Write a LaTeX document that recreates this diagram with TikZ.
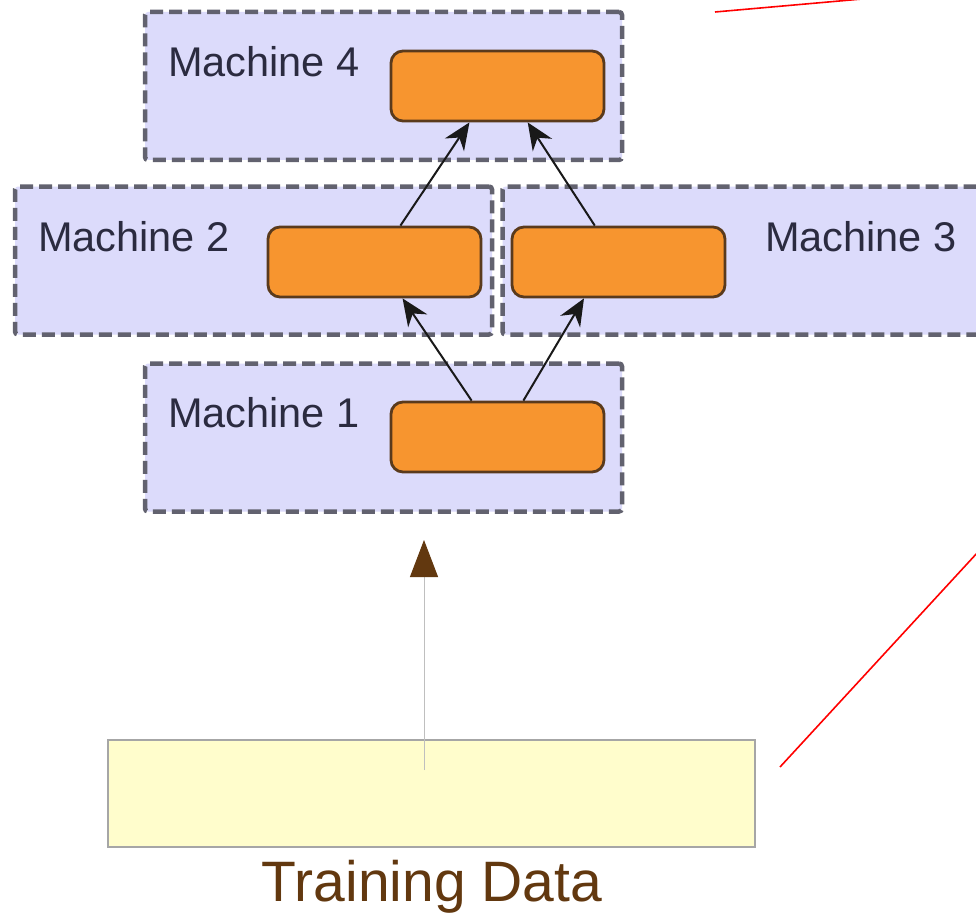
\documentclass[tikz,border=0pt]{standalone}
\usepackage{fontspec}
\setmainfont{Liberation Sans}
\usetikzlibrary{arrows.meta,calc}
\definecolor{lav}{HTML}{DCDBFB}
\definecolor{dashgray}{HTML}{62626F}
\definecolor{orng}{HTML}{F7952F}
\definecolor{obrd}{HTML}{5A3A1C}
\definecolor{brwn}{HTML}{62380F}
\definecolor{ylw}{HTML}{FFFDCC}
\definecolor{labc}{HTML}{2B2B40}
\tikzset{
  machine/.style={draw=dashgray,fill=lav,line width=4.5pt,dash pattern=on 13pt off 6pt,rounded corners=3pt,minimum width=477pt,minimum height=148pt,inner sep=0pt},
  procbox/.style={draw=obrd,fill=orng,line width=2.8pt,rounded corners=12pt,minimum width=213pt,minimum height=70pt,inner sep=0pt},
  mlabel/.style={text=labc,font=\fontsize{41.5}{44}\selectfont,anchor=west,inner sep=0pt},
  flow/.style={draw=black!90,line width=2pt,-{Stealth[length=27pt,width=23pt]}},
  redline/.style={draw=red,line width=1.6pt}
}
\begin{document}
\begin{tikzpicture}[x=1pt,y=-1pt]
\useasboundingbox (0,0) rectangle (976,920);
\clip (0,0) rectangle (976,920);
\fill[white] (0,0) rectangle (976,920);
% machine containers
\node[machine] (m4) at (383.5,86) {};
\node[machine] (m2) at (253.5,260.5) {};
\node[machine] (m3) at (741,260.5) {};
\node[machine] (m1) at (383.5,437.5) {};
% labels
\node[mlabel] (l4) at (168,62) {Machine 4};
\node[mlabel] (l2) at (38,237) {Machine 2};
\node[mlabel] (l3) at (765,237) {Machine 3};
\node[mlabel] (l1) at (168,413) {Machine 1};
% processing boxes
\node[procbox] (p4) at (497.5,86) {};
\node[procbox] (p2) at (374.5,262) {};
\node[procbox] (p3) at (618.5,262) {};
\node[procbox] (p1) at (497.5,437) {};
% arrows
\draw[flow] ($(p1.north west)!0.38!(p1.north east)$) -- ($(p2.south west)!0.63!(p2.south east)$);
\draw[flow] ($(p1.north west)!0.62!(p1.north east)$) -- ($(p3.south west)!0.34!(p3.south east)$);
\draw[flow] ($(p2.north west)!0.62!(p2.north east)$) -- ($(p4.south west)!0.37!(p4.south east)$);
\draw[flow] ($(p3.north west)!0.39!(p3.north east)$) -- ($(p4.south west)!0.64!(p4.south east)$);
% training data
\node[draw=black!35,fill=ylw,line width=1.5pt,minimum width=647pt,minimum height=107pt,inner sep=0pt] (td) at (431.5,793.5) {};
\node[text=brwn,font=\fontsize{57}{60}\selectfont,inner sep=0pt] (tdl) at (432,887) {Training Data};
\coordinate (tdin) at (424,770);
\coordinate (tdtip) at (424,540);
\draw[draw=black!25,line width=1pt,-{Triangle[length=37pt,width=28pt,color=brwn]}] (tdin) -- (tdtip);
% red lines
\coordinate (r1a) at (715,12);
\coordinate (r1b) at (862,-1);
\coordinate (r2a) at (780,767);
\coordinate (r2b) at (978,552);
\draw[redline] (r1a) -- (r1b);
\draw[redline] (r2a) -- (r2b);
\end{tikzpicture}
\end{document}
